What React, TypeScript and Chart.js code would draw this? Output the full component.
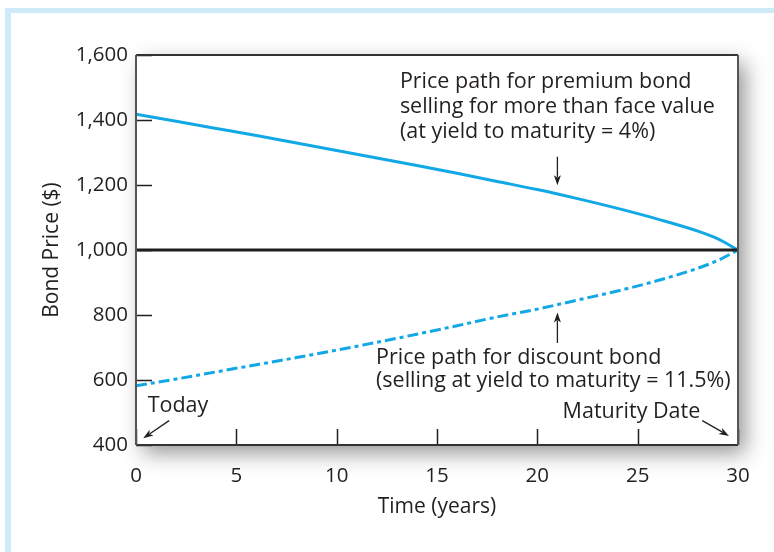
import React, { useEffect, useRef } from "react";
import { Chart, registerables } from "chart.js";

Chart.register(...registerables);

// ---- data ----
const years = [0, 2, 4, 6, 8, 10, 12, 14, 16, 18, 20, 22, 24, 26, 28, 29, 30];
const premiumPrices = [1418, 1396, 1374, 1352, 1329, 1306, 1283, 1260, 1236, 1211, 1186, 1158, 1128, 1095, 1058, 1034, 1000];
const discountPrices = [582, 603, 625, 647, 669, 692, 716, 741, 767, 794, 818, 846, 874, 906, 944, 968, 1000];
const faceYears = [0, 30];
const faceValues = [1000, 1000];
const xTickValues = [0, 5, 10, 15, 20, 25, 30];
const yTickValues = [400, 600, 800, 1000, 1200, 1400, 1600];

const premiumLabel = ["Price path for premium bond", "selling for more than face value", "(at yield to maturity = 4%)"];
const discountLabel = ["Price path for discount bond", "(selling at yield to maturity = 11.5%)"];
const todayLabel = ["Today"];
const maturityLabel = ["Maturity Date"];

// annotation anchors in data units (years, $)
const premiumTextAt = [13.15, 1518];
const discountTextAt = [11.96, 668];
const todayTextAt = [0.58, 520];
const maturityTextAt = [21.26, 502];
const premiumArrow = [[21.0, 1287], [21.0, 1199]];
const discountArrow = [[21.0, 714], [21.0, 808]];
const todayArrow = [[1.65, 475], [0.36, 421]];
const maturityArrow = [[28.22, 475], [29.55, 428]];

const FONT = "'Open Sans', 'Noto Sans', sans-serif";
const INK = "#231f20";
const BLUE = "#12a8e6";

function arrow(ctx: CanvasRenderingContext2D, x1: number, y1: number, x2: number, y2: number) {
  const ang = Math.atan2(y2 - y1, x2 - x1);
  const head = 10;
  const half = 3.5;
  ctx.beginPath();
  ctx.moveTo(x1, y1);
  ctx.lineTo(x2 - Math.cos(ang) * head * 0.8, y2 - Math.sin(ang) * head * 0.8);
  ctx.stroke();
  ctx.beginPath();
  ctx.moveTo(x2, y2);
  ctx.lineTo(x2 - Math.cos(ang) * head - Math.sin(ang) * half, y2 - Math.sin(ang) * head + Math.cos(ang) * half);
  ctx.lineTo(x2 - Math.cos(ang) * head * 0.75, y2 - Math.sin(ang) * head * 0.75);
  ctx.lineTo(x2 - Math.cos(ang) * head + Math.sin(ang) * half, y2 - Math.sin(ang) * head - Math.cos(ang) * half);
  ctx.closePath();
  ctx.fill();
}

const decorPlugin = {
  id: "decor",
  beforeDraw(chart: any) {
    const { ctx, chartArea: a } = chart;
    ctx.save();
    ctx.fillStyle = "#cdeaf9";
    ctx.fillRect(5, 8, chart.width - 5, 5);
    ctx.fillRect(5, 8, 6, chart.height - 8);
    ctx.shadowColor = "rgba(0,0,0,0.42)";
    ctx.shadowBlur = 20;
    ctx.shadowOffsetX = 7;
    ctx.shadowOffsetY = 8;
    ctx.fillStyle = "#ffffff";
    ctx.fillRect(a.left, a.top, a.right - a.left, a.bottom - a.top);
    ctx.restore();
  },
  afterDatasetsDraw(chart: any) {
    const { ctx, chartArea: a, scales } = chart;
    const xs = scales.x;
    const ys = scales.y;
    const px = (v: number) => xs.getPixelForValue(v);
    const py = (v: number) => ys.getPixelForValue(v);
    ctx.save();
    // inner tick marks
    ctx.strokeStyle = INK;
    ctx.lineWidth = 1.5;
    for (const v of yTickValues) {
      const y = Math.round(py(v)) + 0.5;
      ctx.beginPath();
      ctx.moveTo(a.left, y);
      ctx.lineTo(a.left + 16, y);
      ctx.stroke();
    }
    for (const v of xTickValues) {
      const x = Math.round(px(v)) + 0.5;
      ctx.beginPath();
      ctx.moveTo(x, a.bottom);
      ctx.lineTo(x, a.bottom - 16);
      ctx.stroke();
    }
    // frame
    ctx.lineWidth = 2;
    ctx.strokeStyle = "#333333";
    ctx.beginPath();
    ctx.moveTo(a.left, a.top);
    ctx.lineTo(a.right, a.top);
    ctx.stroke();
    ctx.beginPath();
    ctx.moveTo(a.left, a.bottom);
    ctx.lineTo(a.right, a.bottom);
    ctx.stroke();
    ctx.strokeStyle = "#555555";
    ctx.beginPath();
    ctx.moveTo(a.left, a.top);
    ctx.lineTo(a.left, a.bottom);
    ctx.stroke();
    ctx.beginPath();
    ctx.moveTo(a.right, a.top);
    ctx.lineTo(a.right, a.bottom);
    ctx.stroke();

    // annotations
    ctx.fillStyle = INK;
    ctx.textAlign = "left";
    ctx.textBaseline = "middle";
    const drawText = (lines: string[], at: number[], size: number, step: number) => {
      ctx.font = `${size}px ${FONT}`;
      lines.forEach((t, i) => ctx.fillText(t, px(at[0]), py(at[1]) + i * step));
    };
    drawText(premiumLabel, premiumTextAt, 21.5, 25);
    drawText(discountLabel, discountTextAt, 21.5, 23);
    drawText(todayLabel, todayTextAt, 21.5, 24);
    drawText(maturityLabel, maturityTextAt, 21.5, 24);
    ctx.strokeStyle = INK;
    ctx.fillStyle = INK;
    ctx.lineWidth = 1.3;
    for (const ar of [premiumArrow, discountArrow, todayArrow, maturityArrow]) {
      arrow(ctx, px(ar[0][0]), py(ar[0][1]), px(ar[1][0]), py(ar[1][1]));
    }
    ctx.restore();
  },
};

export default function App() {
  const ref = useRef<HTMLCanvasElement | null>(null);
  useEffect(() => {
    if (!ref.current) return;
    const toXY = (xsv: number[], ysv: number[]) => xsv.map((x, i) => ({ x, y: ysv[i] }));
    const chart = new Chart(ref.current, {
      type: "line",
      data: {
        datasets: [
          {
            label: "Face value",
            data: toXY(faceYears, faceValues),
            borderColor: "#1e1e1e",
            borderWidth: 3,
            pointRadius: 0,
          },
          {
            label: "Premium bond",
            data: toXY(years, premiumPrices),
            borderColor: BLUE,
            borderWidth: 3,
            pointRadius: 0,
            cubicInterpolationMode: "monotone",
          },
          {
            label: "Discount bond",
            data: toXY(years, discountPrices),
            borderColor: BLUE,
            borderWidth: 3,
            borderDash: [11, 4, 4, 4],
            pointRadius: 0,
            cubicInterpolationMode: "monotone",
          },
        ],
      },
      options: {
        animation: false,
        responsive: false,
        layout: { padding: { top: 55, right: 36, left: 0, bottom: 0 } },
        plugins: { legend: { display: false }, tooltip: { enabled: false } },
        scales: {
          x: {
            type: "linear",
            min: 0,
            max: 30,
            afterFit: (s: any) => {
              s.height = 107;
            },
            afterBuildTicks: (s: any) => {
              s.ticks = xTickValues.map((v) => ({ value: v }));
            },
            ticks: { color: INK, font: { family: FONT, size: 20.5 }, padding: 19, maxRotation: 0 },
            grid: { display: false, drawTicks: false },
            border: { display: false },
            title: {
              display: true,
              text: "Time (years)",
              color: INK,
              font: { family: FONT, size: 21 },
              padding: { top: 0, bottom: 32 },
            },
          },
          y: {
            type: "linear",
            min: 400,
            max: 1600,
            afterFit: (s: any) => {
              s.width = 136;
            },
            afterBuildTicks: (s: any) => {
              s.ticks = yTickValues.map((v) => ({ value: v }));
            },
            ticks: {
              color: INK,
              font: { family: FONT, size: 20.5 },
              padding: 8,
              callback: (v: any) => Number(v).toLocaleString("en-US"),
            },
            grid: { display: false, drawTicks: false },
            border: { display: false },
            title: {
              display: true,
              text: "Bond Price ($)",
              color: INK,
              font: { family: FONT, size: 21 },
              padding: { top: 39, bottom: 0 },
            },
          },
        },
      },
      plugins: [decorPlugin],
    });
    return () => chart.destroy();
  }, []);
  return (
    <div style={{ position: "absolute", left: 0, top: 0, width: 774, height: 552, background: "#fff" }}>
      <canvas ref={ref} width={774} height={552} style={{ display: "block" }} />
    </div>
  );
}
